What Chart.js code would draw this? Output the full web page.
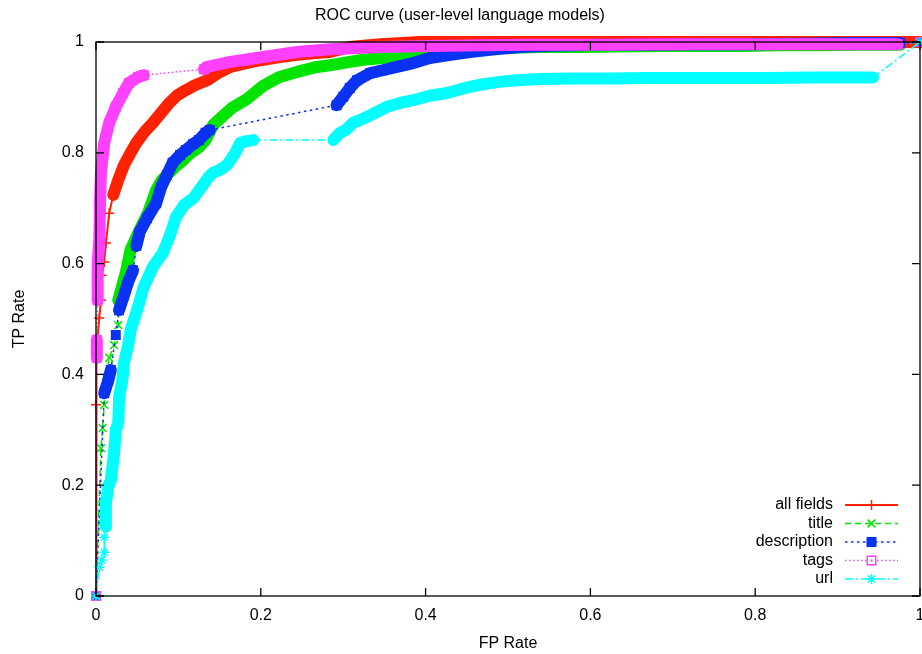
<!DOCTYPE html>
<html>
<head>
<meta charset="utf-8">
<title>ROC curve (user-level language models)</title>
<script src="https://cdn.jsdelivr.net/npm/chart.js@4.4.1/dist/chart.umd.min.js"></script>
<style>
  html, body { margin: 0; padding: 0; background: #fff; }
  #wrap { width: 922px; height: 654px; }
</style>
</head>
<body>
<div id="wrap"><canvas id="roc"></canvas></div>
<script>
const seriesNames = ['all fields', 'title', 'description', 'tags', 'url'];
const tickLabels = ['0', '0.2', '0.4', '0.6', '0.8', '1'];

// FP rate / TP rate per series
const allFieldsFP = [0, 0, 0.001, 0.004, 0.006, 0.007, 0.010, 0.012, 0.016, 0.021, 0.027, 0.034, 0.042, 0.049,
  0.059, 0.069, 0.079, 0.089, 0.098, 0.109, 0.120, 0.135, 0.148, 0.163, 0.182, 0.203, 0.223, 0.244, 0.266,
  0.284, 0.308, 0.345, 0.393, 0.5, 0.6, 0.7, 0.8, 0.9, 1];
const allFieldsTP = [0, 0.345, 0.444, 0.502, 0.534, 0.579, 0.603, 0.637, 0.691, 0.724, 0.751, 0.778, 0.800, 0.818,
  0.838, 0.854, 0.872, 0.890, 0.903, 0.913, 0.922, 0.931, 0.944, 0.955, 0.962, 0.968, 0.973, 0.977, 0.980,
  0.982, 0.991, 0.996, 1, 1, 1, 1, 1, 1, 1];
// index ranges where the ROC points are so dense that the markers merge into a band
const allFieldsBands = [[9, 38]];

const titleFP = [0, 0.006, 0.008, 0.010, 0.012, 0.016, 0.022, 0.027, 0.027, 0.032, 0.036, 0.042,
  0.049, 0.056, 0.063, 0.073, 0.080, 0.089, 0.097, 0.106, 0.115, 0.125, 0.133, 0.142, 0.153, 0.165, 0.183,
  0.203, 0.223, 0.244, 0.268, 0.284, 0.308, 0.324, 0.348, 0.385, 0.417, 0.454, 0.490, 0.539, 0.587, 0.636,
  0.684, 0.733, 0.782, 0.830, 0.879, 0.927, 0.976, 1];
const titleTP = [0, 0.267, 0.303, 0.345, 0.386, 0.430, 0.453, 0.489, 0.534, 0.561, 0.583, 0.625,
  0.648, 0.670, 0.691, 0.733, 0.751, 0.764, 0.776, 0.787, 0.800, 0.810, 0.823, 0.850, 0.865, 0.881, 0.897,
  0.921, 0.937, 0.946, 0.955, 0.958, 0.964, 0.968, 0.971, 0.977, 0.984, 0.987, 0.989, 0.991, 0.991, 0.992,
  0.993, 0.993, 0.993, 0.994, 0.994, 0.995, 0.995, 1];
const titleBands = [[8, 48]];

const descriptionFP = [0, 0.010, 0.015, 0.018, 0.024, 0.028, 0.034, 0.039, 0.045, 0.049, 0.053,
  0.062, 0.073, 0.079, 0.086, 0.093, 0.102, 0.109, 0.118, 0.125, 0.133, 0.138, 0.292, 0.300, 0.308, 0.317,
  0.333, 0.348, 0.365, 0.385, 0.405, 0.430, 0.454, 0.478, 0.515, 0.551, 0.612, 0.672, 0.733, 0.794, 0.854,
  0.915, 0.976, 1];
const descriptionTP = [0, 0.366, 0.390, 0.408, 0.471, 0.516, 0.543, 0.567, 0.588, 0.632, 0.657,
  0.682, 0.709, 0.738, 0.760, 0.782, 0.796, 0.805, 0.816, 0.823, 0.836, 0.841, 0.886, 0.901, 0.917, 0.931,
  0.944, 0.949, 0.955, 0.962, 0.971, 0.977, 0.982, 0.986, 0.991, 0.993, 0.995, 0.995, 0.996, 0.996, 0.997,
  0.998, 0.998, 1];
const descriptionBands = [[1, 3], [5, 8], [9, 21], [22, 42]];

const tagsFP = [0, 0.001, 0.001, 0.002, 0.002, 0.004, 0.005, 0.006, 0.010, 0.016, 0.024, 0.033,
  0.040, 0.051, 0.058, 0.131, 0.135, 0.163, 0.203, 0.244, 0.284, 0.345, 0.405, 0.466, 0.527, 0.612, 0.709,
  0.806, 0.903, 0.973, 1];
const tagsTP = [0, 0.430, 0.462, 0.534, 0.597, 0.643, 0.715, 0.764, 0.818, 0.854, 0.883,
  0.908, 0.926, 0.937, 0.940, 0.951, 0.955, 0.964, 0.973, 0.982, 0.987, 0.991, 0.993, 0.994, 0.995, 0.995,
  0.996, 0.996, 0.996, 0.996, 1];
const tagsBands = [[1, 2], [3, 14], [15, 29]];

const urlFP = [0, 0.004, 0.007, 0.010, 0.010, 0.012, 0.012, 0.015, 0.018, 0.022, 0.024, 0.027, 0.028, 0.032,
  0.034, 0.039, 0.042, 0.051, 0.058, 0.069, 0.081, 0.089, 0.097, 0.107, 0.118, 0.130, 0.136, 0.142, 0.150,
  0.159, 0.169, 0.175, 0.183, 0.191, 0.288, 0.296, 0.303, 0.312, 0.320, 0.329, 0.341, 0.353, 0.369, 0.385,
  0.405, 0.426, 0.448, 0.470, 0.490, 0.511, 0.539, 0.575, 0.624, 0.672, 0.721, 0.769, 0.818, 0.867, 0.915,
  0.943, 1];
const urlTP = [0, 0.052, 0.065, 0.079, 0.106, 0.125, 0.168, 0.197, 0.209, 0.258, 0.300, 0.312, 0.359, 0.390,
  0.421, 0.453, 0.480, 0.522, 0.558, 0.594, 0.619, 0.648, 0.684, 0.706, 0.718, 0.742, 0.755, 0.764, 0.769,
  0.778, 0.800, 0.818, 0.821, 0.823, 0.823, 0.836, 0.841, 0.854, 0.859, 0.865, 0.874, 0.883, 0.890, 0.895,
  0.903, 0.908, 0.917, 0.924, 0.928, 0.931, 0.933, 0.934, 0.934, 0.935, 0.935, 0.935, 0.935, 0.936, 0.936,
  0.936, 1];
const urlBands = [[5, 33], [34, 59]];

// gnuplot-like styles
const colors = ['#ff2200', '#00e400', '#0a32f2', '#ff40ff', '#00ffff'];
const dashes = [[], [6, 4], [2.5, 3.5], [1.5, 2.5], [8, 3, 2, 3]];
const markers = ['cross', 'crossRot', 'rect', 'rect', 'star'];
const markerSize = [5, 5.5, 6, 6, 5];
const filled = [true, true, true, false, true];
const thinWidth = [2, 1.5, 1.5, 1.5, 1.5];
const bandWidth = 12;

Chart.defaults.font.family = '"Liberation Sans", Arial, Helvetica, sans-serif';
Chart.defaults.font.size = 16;
Chart.defaults.color = '#000';

function makeSet(i, fp, tp, bands) {
  const inBand = k => bands.some(b => k >= b[0] && k < b[1]);
  return {
    label: seriesNames[i],
    data: fp.map((x, k) => ({ x: x, y: tp[k] })),
    borderColor: colors[i],
    backgroundColor: colors[i],
    borderWidth: thinWidth[i],
    borderDash: dashes[i],
    borderJoinStyle: 'round',
    pointStyle: markers[i],
    pointRadius: markerSize[i],
    pointBorderWidth: 1.5,
    pointBorderColor: colors[i],
    pointBackgroundColor: filled[i] ? colors[i] : 'rgba(0,0,0,0)',
    tension: 0,
    clip: false,
    order: 4 - i,
    segment: {
      borderWidth: c => inBand(c.p0DataIndex) ? bandWidth : thinWidth[i],
      borderDash: c => inBand(c.p0DataIndex) ? [] : dashes[i],
      borderCapStyle: c => inBand(c.p0DataIndex) ? 'round' : 'butt',
    },
  };
}

// border box with inward ticks on all four sides
const framePlugin = {
  id: 'frame',
  afterDatasetsDraw(chart) {
    const { ctx, chartArea: a, scales } = chart;
    ctx.save();
    ctx.strokeStyle = '#000';
    ctx.lineWidth = 1.3;
    ctx.strokeRect(a.left, a.top, a.right - a.left, a.bottom - a.top);
    ctx.beginPath();
    scales.x.ticks.forEach(t => {
      const px = scales.x.getPixelForValue(t.value);
      ctx.moveTo(px, a.bottom); ctx.lineTo(px, a.bottom - 8);
      ctx.moveTo(px, a.top); ctx.lineTo(px, a.top + 8);
    });
    scales.y.ticks.forEach(t => {
      const py = scales.y.getPixelForValue(t.value);
      ctx.moveTo(a.left, py); ctx.lineTo(a.left + 8, py);
      ctx.moveTo(a.right, py); ctx.lineTo(a.right - 8, py);
    });
    ctx.stroke();
    ctx.restore();
  },
};

// key in the lower right corner, text right aligned and a line sample after it
const keyPlugin = {
  id: 'gnuKey',
  afterDraw(chart) {
    const { ctx, chartArea: a } = chart;
    ctx.save();
    ctx.font = '16px "Liberation Sans", Arial, sans-serif';
    ctx.textAlign = 'right';
    ctx.textBaseline = 'middle';
    chart.data.datasets.forEach((ds, i) => {
      const y = a.bottom - 91 + i * 18.5;
      const x0 = a.right - 75, x1 = a.right - 22, xm = (x0 + x1) / 2;
      ctx.fillStyle = '#000';
      ctx.fillText(ds.label, a.right - 87, y);
      ctx.strokeStyle = colors[i];
      ctx.lineWidth = thinWidth[i];
      ctx.setLineDash(dashes[i]);
      ctx.beginPath();
      ctx.moveTo(x0, y); ctx.lineTo(x1, y);
      ctx.stroke();
      ctx.setLineDash([]);
      ctx.fillStyle = filled[i] ? colors[i] : '#fff';
      ctx.lineWidth = 1.5;
      Chart.helpers.drawPoint(ctx, { pointStyle: markers[i], radius: markerSize[i], borderWidth: 1.5, rotation: 0 }, xm, y);
      if (!filled[i]) {
        ctx.fillStyle = colors[i];
        ctx.fillRect(xm - 1, y - 1, 2, 2);
      }
    });
    ctx.restore();
  },
};

new Chart(document.getElementById('roc'), {
  type: 'line',
  data: {
    datasets: [
      makeSet(0, allFieldsFP, allFieldsTP, allFieldsBands),
      makeSet(1, titleFP, titleTP, titleBands),
      makeSet(2, descriptionFP, descriptionTP, descriptionBands),
      makeSet(3, tagsFP, tagsTP, tagsBands),
      makeSet(4, urlFP, urlTP, urlBands),
    ],
  },
  options: {
    animation: false,
    responsive: true,
    maintainAspectRatio: false,
    events: [],
    layout: { autoPadding: false, padding: { left: 0, right: 2, top: 0, bottom: 0 } },
    plugins: {
      legend: { display: false },
      tooltip: { enabled: false },
      title: {
        display: true,
        text: 'ROC curve (user-level language models)',
        color: '#000',
        font: { size: 16, weight: 'normal' },
        padding: { top: 6.4, bottom: 16.4 },
      },
    },
    scales: {
      x: {
        type: 'linear',
        min: 0,
        max: 1,
        grid: { display: false, drawTicks: false },
        border: { display: false },
        ticks: {
          stepSize: 0.2,
          padding: 10,
          maxRotation: 0,
          autoSkip: false,
          callback: v => tickLabels[Math.round(v / 0.2)],
        },
        title: { display: true, text: 'FP Rate', padding: 1 },
        afterFit: s => { s.height = 58; s.paddingLeft = 0; s.paddingRight = 0; },
      },
      y: {
        type: 'linear',
        min: 0,
        max: 1,
        grid: { display: false, drawTicks: false },
        border: { display: false },
        ticks: {
          stepSize: 0.2,
          padding: 12,
          autoSkip: false,
          callback: v => tickLabels[Math.round(v / 0.2)],
        },
        title: { display: true, text: 'TP Rate', padding: { top: 10, bottom: 0 } },
        afterFit: s => { s.width = 96; s.paddingTop = 0; s.paddingBottom = 0; },
      },
    },
  },
  plugins: [framePlugin, keyPlugin],
});
</script>
</body>
</html>
